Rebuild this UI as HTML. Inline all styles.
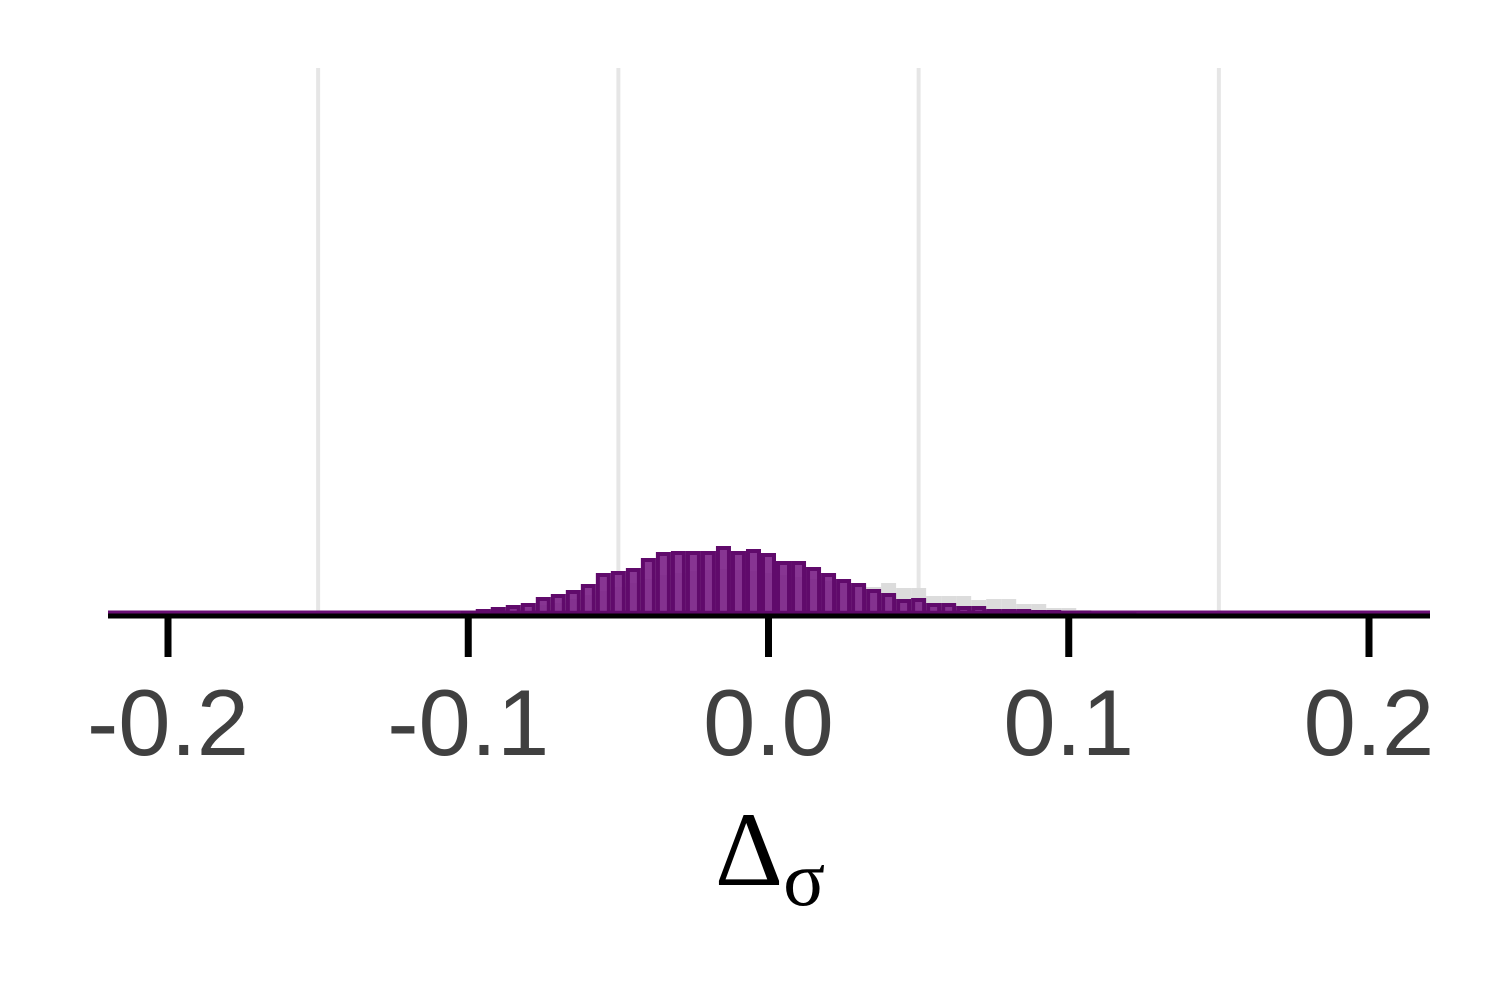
<!DOCTYPE html>
<html><head><meta charset="utf-8"><style>
html,body{margin:0;padding:0;background:#fff;width:1500px;height:1000px;overflow:hidden}
</style></head><body>
<svg id="chart" width="1500" height="1000" xmlns="http://www.w3.org/2000/svg">
<g id="grid"></g>
<g id="gray"></g>
<g id="purple"></g>
<g id="axis"></g>
<text x="770" y="885" text-anchor="middle" font-family="Liberation Serif, serif" font-size="106" fill="#000">Δ<tspan font-size="78" dy="20">σ</tspan></text>
</svg>
<script>
const binCenters = [-0.1,-0.095,-0.09,-0.085,-0.08,-0.075,-0.07,-0.065,-0.06,-0.055,-0.05,-0.045,-0.04,-0.035,-0.03,-0.025,-0.02,-0.015,-0.01,-0.005,0,0.005,0.01,0.015,0.02,0.025,0.03,0.035,0.04,0.045,0.05,0.055,0.06,0.065,0.07,0.075,0.08,0.085,0.09,0.095,0.1,0.105,0.11,0.115,0.12];
const purpleValues = [0.2,0.4,0.6,0.8,1.0,1.6,1.9,2.3,2.9,4.0,4.2,4.5,5.5,6.1,6.2,6.2,6.2,6.7,6.2,6.4,6.0,5.2,5.2,4.6,4.0,3.4,3.0,2.4,2.0,1.4,1.5,1.0,1.0,0.7,0.7,0.4,0.4,0.4,0.3,0.3,0.2,0.2,0.1,0.1,0.1];
const grayValues = [0.2,0.3,0.3,0.4,0.5,0.8,1.0,1.4,1.8,2.2,2.6,3.0,3.4,3.8,4.0,4.2,4.3,4.4,4.3,4.2,4.0,3.8,3.6,3.4,3.2,3.0,2.8,2.6,3.0,2.5,2.5,1.7,1.7,1.7,1.3,1.4,1.4,0.9,0.9,0.5,0.5,0.3,0.2,0.1,0.1];
const tickValues = [-0.2,-0.1,0,0.1,0.2];
const tickLabels = ["-0.2","-0.1","0.0","0.1","0.2"];
const gridValues = [-0.15,-0.05,0.05,0.15];
const binWidth = 0.005;
const NS="http://www.w3.org/2000/svg";
const x = v => 768.5 + v*3002.5;
const y = v => 613 - v*10;
function mk(tag, parent, attrs){const e=document.createElementNS(NS,tag);for(const k in attrs)e.setAttribute(k,attrs[k]);parent.appendChild(e);return e;}
const grid=document.getElementById('grid');
gridValues.forEach(g=>{
  const l=mk('line',grid,{x1:x(g),x2:x(g),y1:68,y2:613,stroke:'#e6e6e6','stroke-width':4});
  
  
});
const gray=document.getElementById('gray');
binCenters.forEach((c,i)=>{
  const r=mk('rect',gray,{x:x(c-binWidth/2),y:y(grayValues[i]),width:x(binWidth)-x(0),height:613-y(grayValues[i]),fill:'#dcdcdc'});
  
  
});
mk('line',gray,{x1:108,x2:1430,y1:612,y2:612,stroke:'#6a0f75','stroke-width':3});
const purple=document.getElementById('purple');
binCenters.forEach((c,i)=>{
  const h=613-y(purpleValues[i]);
  const r=mk('rect',purple,{x:x(c-binWidth/2)+2,y:y(purpleValues[i])+2,width:x(binWidth)-x(0)-4,height:Math.max(h-2,0.5),fill:'#7a1f86','fill-opacity':0.9,stroke:'#600a6b','stroke-width':4});
  
  
});
const axis=document.getElementById('axis');
mk('line',axis,{x1:108,x2:1430,y1:616,y2:616,stroke:'#000','stroke-width':5});
tickValues.forEach((t,i)=>{
  const tk=mk('line',axis,{x1:x(t),x2:x(t),y1:616,y2:657,stroke:'#000','stroke-width':7});
  
  
  const tx=mk('text',axis,{x:x(t),y:755,'text-anchor':'middle','font-family':'Liberation Sans, sans-serif','font-size':94,fill:'#404040'});
  tx.textContent=tickLabels[i];
  
  
});
</script>
</body></html>
